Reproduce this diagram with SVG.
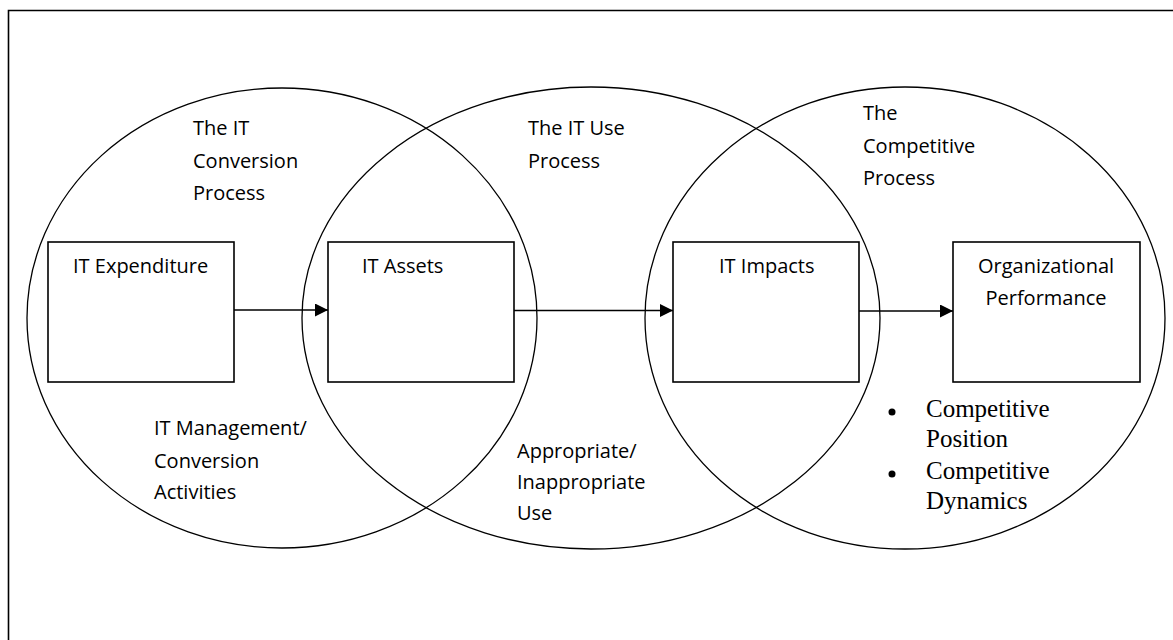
<svg xmlns="http://www.w3.org/2000/svg" width="1173" height="640" viewBox="0 0 1173 640">
  <style>
    .frame { fill: none; stroke: #000; stroke-width: 1.6; }
    .ring { fill: none; stroke: #000; stroke-width: 1.3; }
    .box { fill: #fff; stroke: #000; stroke-width: 1.6; }
    .edge { fill: none; stroke: #000; stroke-width: 1.6; }
    .lbl { font-family: "Open Sans", "Liberation Sans", sans-serif; font-size: 20px; fill: #000; }
    .mid { text-anchor: middle; }
    .serif { font-family: "Liberation Serif", "DejaVu Serif", serif; font-size: 25px; fill: #000; }
  </style>
  <defs>
    <marker id="arrow" viewBox="0 0 10 10" refX="10" refY="5" markerWidth="14" markerHeight="13" markerUnits="userSpaceOnUse" orient="auto">
      <path d="M0,0 L10,5 L0,10 Z" fill="#000"/>
    </marker>
  </defs>
  <rect width="1173" height="640" fill="#fff"/>

  <!-- outer frame (open to the right and bottom) -->
  <path class="frame" d="M8.5,640 V10.5 H1173"/>

  <!-- process ellipses -->
  <g id="processes">
    <g id="conversion-process">
      <ellipse class="ring" cx="282" cy="318" rx="255" ry="230"/>
      <text class="lbl" x="193" y="135">The IT</text>
      <text class="lbl" x="193" y="168">Conversion</text>
      <text class="lbl" x="193" y="200">Process</text>
      <text class="lbl" x="154" y="435">IT Management/</text>
      <text class="lbl" x="154" y="468">Conversion</text>
      <text class="lbl" x="154" y="499">Activities</text>
    </g>
    <g id="use-process">
      <ellipse class="ring" cx="591" cy="318" rx="289" ry="231"/>
      <text class="lbl" x="528" y="135">The IT Use</text>
      <text class="lbl" x="528" y="168">Process</text>
      <text class="lbl" x="517" y="458">Appropriate/</text>
      <text class="lbl" x="517" y="489">Inappropriate</text>
      <text class="lbl" x="517" y="520">Use</text>
    </g>
    <g id="competitive-process">
      <ellipse class="ring" cx="905" cy="318" rx="260" ry="231"/>
      <text class="lbl" x="863" y="120">The</text>
      <text class="lbl" x="863" y="153">Competitive</text>
      <text class="lbl" x="863" y="185">Process</text>
    </g>
  </g>

  <!-- connectors -->
  <g id="connectors">
    <line class="edge" x1="234" y1="310" x2="328" y2="310" marker-end="url(#arrow)"/>
    <line class="edge" x1="514" y1="310.5" x2="673" y2="310.5" marker-end="url(#arrow)"/>
    <line class="edge" x1="859" y1="311" x2="953" y2="311" marker-end="url(#arrow)"/>
  </g>

  <!-- nodes -->
  <g id="it-expenditure">
    <rect class="box" x="48" y="242" width="186" height="140"/>
    <text class="lbl" x="73" y="273">IT Expenditure</text>
  </g>
  <g id="it-assets">
    <rect class="box" x="328" y="242" width="186" height="140"/>
    <text class="lbl" x="362" y="273">IT Assets</text>
  </g>
  <g id="it-impacts">
    <rect class="box" x="673" y="242" width="186" height="140"/>
    <text class="lbl" x="719" y="273">IT Impacts</text>
  </g>
  <g id="organizational-performance">
    <rect class="box" x="953" y="242" width="187" height="140"/>
    <text class="lbl mid" x="1046" y="273">Organizational</text>
    <text class="lbl mid" x="1046" y="305">Performance</text>
  </g>

  <!-- performance dimensions -->
  <g id="performance-dimensions">
    <circle cx="892" cy="412" r="3.5" fill="#000"/>
    <text class="serif" x="926" y="417">Competitive</text>
    <text class="serif" x="926" y="447">Position</text>
    <circle cx="892" cy="474" r="3.5" fill="#000"/>
    <text class="serif" x="926" y="479">Competitive</text>
    <text class="serif" x="926" y="509">Dynamics</text>
  </g>
</svg>
